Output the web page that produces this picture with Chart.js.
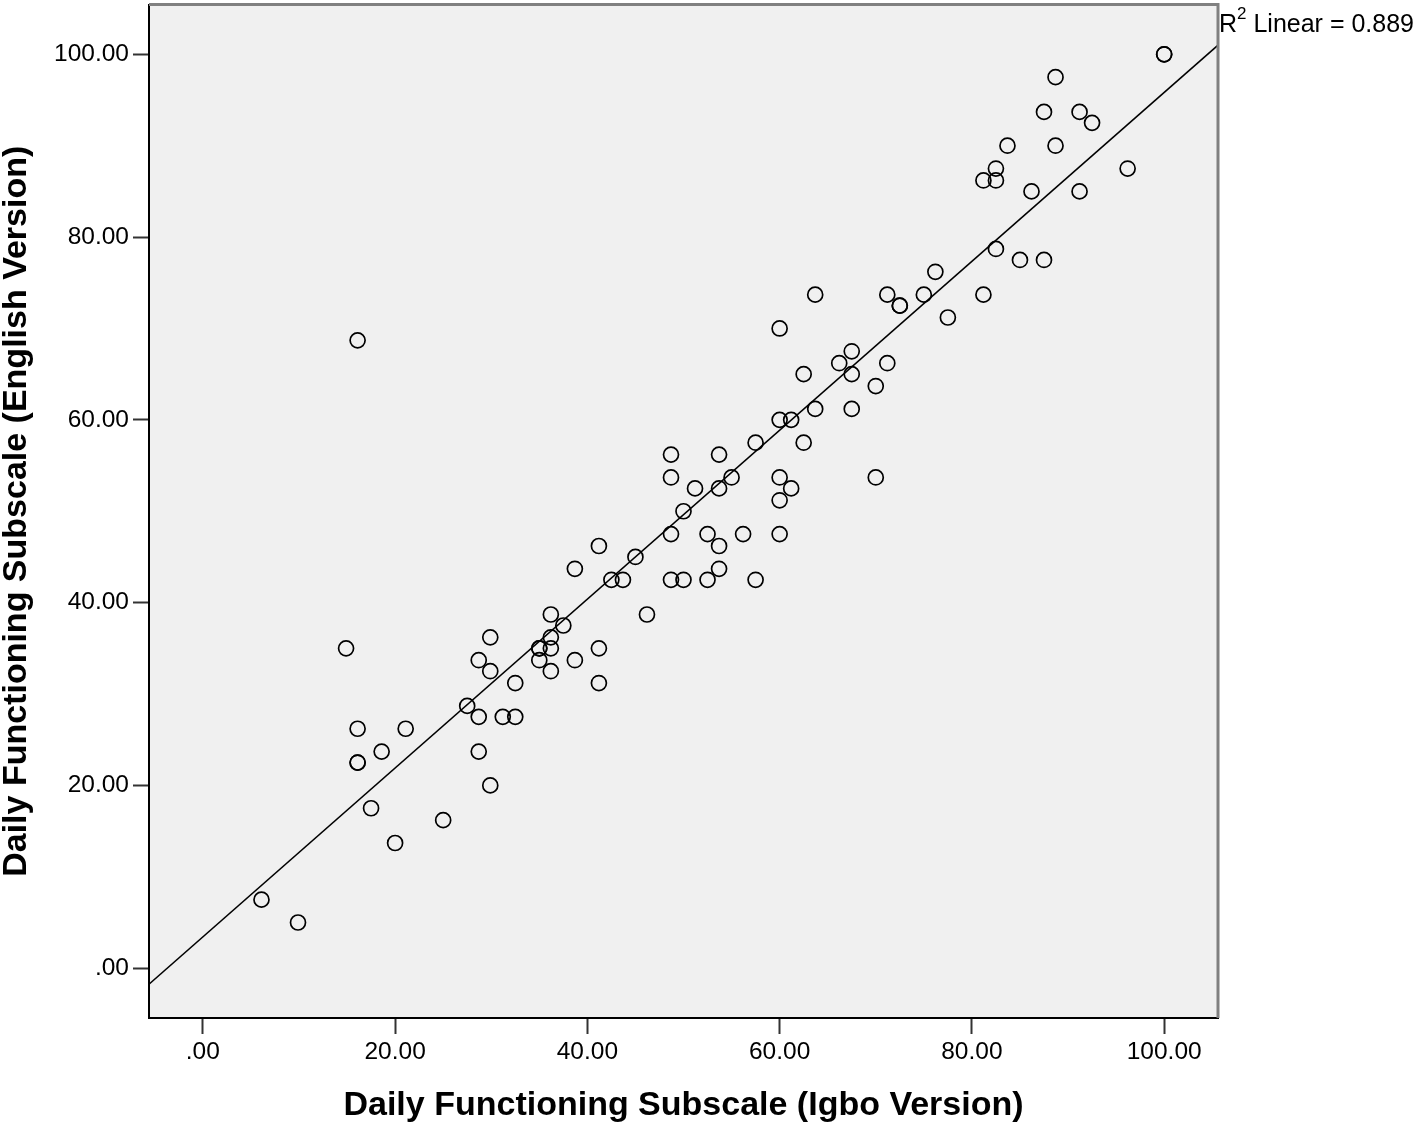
<!DOCTYPE html>
<html>
<head>
<meta charset="utf-8">
<script src="https://cdn.jsdelivr.net/npm/chart.js@4/dist/chart.umd.min.js"></script>
<style>
html,body{margin:0;padding:0;background:#fff;}
#wrap{width:1418px;height:1127px;position:relative;}
</style>
</head>
<body>
<div id="wrap"><canvas id="c" width="1418" height="1127"></canvas></div>
<script>
// Daily Functioning Subscale scores
const igboScores = [
  6.1, 9.9, 16.1, 14.9, 16.1, 16.1, 16.1, 18.6, 17.5, 20.0,
  21.1, 25.0, 27.5, 28.7, 28.7, 28.7, 29.9, 29.9, 29.9, 31.2,
  32.5, 32.5, 35.0, 35.0, 35.0, 36.2, 36.2, 36.2, 36.2, 37.5,
  38.7, 38.7, 41.2, 41.2, 41.2, 42.5, 43.7, 45.0, 46.2, 48.7,
  48.7, 48.7, 48.7, 50.0, 50.0, 51.2, 52.5, 52.5, 53.7, 53.7,
  53.7, 53.7, 55.0, 56.2, 57.5, 57.5, 60.0, 60.0, 60.0, 60.0,
  60.0, 61.2, 61.2, 62.5, 62.5, 63.7, 63.7, 66.2, 67.5, 67.5,
  67.5, 70.0, 70.0, 71.2, 71.2, 72.5, 72.5, 75.0, 76.2, 77.5,
  81.2, 81.2, 82.5, 82.5, 82.5, 83.7, 85.0, 86.2, 87.5, 87.5,
  88.7, 88.7, 91.2, 91.2, 92.5, 96.2, 100.0, 100.0
];
const englishScores = [
  7.5, 5.0, 68.7, 35.0, 26.2, 22.5, 22.5, 23.7, 17.5, 13.7,
  26.2, 16.2, 28.7, 33.7, 27.5, 23.7, 36.2, 32.5, 20.0, 27.5,
  27.5, 31.2, 35.0, 35.0, 33.7, 38.7, 36.2, 35.0, 32.5, 37.5,
  43.7, 33.7, 46.2, 35.0, 31.2, 42.5, 42.5, 45.0, 38.7, 56.2,
  53.7, 47.5, 42.5, 50.0, 42.5, 52.5, 47.5, 42.5, 56.2, 52.5,
  46.2, 43.7, 53.7, 47.5, 57.5, 42.5, 70.0, 60.0, 53.7, 51.2,
  47.5, 60.0, 52.5, 65.0, 57.5, 73.7, 61.2, 66.2, 67.5, 65.0,
  61.2, 63.7, 53.7, 73.7, 66.2, 72.5, 72.5, 73.7, 76.2, 71.2,
  86.2, 73.7, 87.5, 86.2, 78.7, 90.0, 77.5, 85.0, 93.7, 77.5,
  97.5, 90.0, 93.7, 85.0, 92.5, 87.5, 100.0, 100.0
];
const tickValues = [0, 20, 40, 60, 80, 100];
const axisRangeX = [-5.6, 105.6];
const axisRangeY = [-5.45, 105.45];
// Linear fit
const fitSlope = 0.924;
const fitIntercept = 3.43;
const xTitle = 'Daily Functioning Subscale (Igbo Version)';
const yTitle = 'Daily Functioning Subscale (English Version)';
const r2Parts = ['R', '2', ' Linear = 0.889'];

const FONT = '"Liberation Sans", Arial, sans-serif';

const points = igboScores.map((x, i) => ({x: x, y: englishScores[i]}));
const fitLine = axisRangeX.map(x => ({x: x, y: fitIntercept + fitSlope * x}));

const fmt = v => (Math.abs(v) < 1e-9 ? '.00' : v.toFixed(2));

const plotDecor = {
  id: 'plotDecor',
  beforeDraw(chart) {
    const {ctx, chartArea: a} = chart;
    ctx.save();
    ctx.fillStyle = '#f0f0f0';
    ctx.fillRect(a.left, a.top, a.right - a.left, a.bottom - a.top);
    ctx.restore();
  },
  afterDraw(chart) {
    const {ctx, chartArea: a} = chart;
    ctx.save();
    ctx.strokeStyle = '#808080';
    ctx.lineWidth = 3;
    ctx.beginPath();
    ctx.moveTo(a.left, a.top);
    ctx.lineTo(a.right, a.top);
    ctx.lineTo(a.right, a.bottom);
    ctx.stroke();
    // R squared label
    ctx.fillStyle = '#000';
    ctx.textBaseline = 'alphabetic';
    ctx.textAlign = 'left';
    let x = a.right + 1;
    const base = 32;
    ctx.font = '25px ' + FONT;
    ctx.fillText(r2Parts[0], x, base);
    x += ctx.measureText(r2Parts[0]).width;
    ctx.font = '17px ' + FONT;
    ctx.fillText(r2Parts[1], x, base - 13);
    x += ctx.measureText(r2Parts[1]).width;
    ctx.font = '25px ' + FONT;
    ctx.fillText(r2Parts[2], x, base);
    ctx.restore();
  }
};

const tickFont = {family: FONT, size: 24.5, lineHeight: 1};
const titleFont = {family: FONT, size: 34, weight: 'bold', lineHeight: 1};

new Chart(document.getElementById('c'), {
  type: 'scatter',
  data: {
    datasets: [
      {
        type: 'line',
        data: fitLine,
        borderColor: '#000',
        borderWidth: 1.5,
        pointRadius: 0,
        fill: false,
        tension: 0,
        order: 2
      },
      {
        data: points,
        pointStyle: 'circle',
        pointRadius: 7.5,
        pointBorderWidth: 1.7,
        pointBorderColor: '#000',
        pointBackgroundColor: 'rgba(0,0,0,0)',
        borderColor: '#000',
        backgroundColor: 'rgba(0,0,0,0)',
        order: 1
      }
    ]
  },
  options: {
    responsive: false,
    animation: false,
    devicePixelRatio: 1,
    layout: {autoPadding: false, padding: {top: 4.5, right: 200, left: 0, bottom: 0}},
    plugins: {legend: {display: false}, tooltip: {enabled: false}},
    scales: {
      x: {
        type: 'linear',
        min: axisRangeX[0],
        max: axisRangeX[1],
        afterBuildTicks: s => { s.ticks = tickValues.map(v => ({value: v})); },
        afterFit: s => { s.height = 109; s.paddingLeft = 0; s.paddingRight = 0; },
        ticks: {
          callback: v => fmt(v),
          font: tickFont,
          color: '#000',
          padding: 6,
          maxRotation: 0,
          autoSkip: false
        },
        grid: {
          drawOnChartArea: false,
          drawTicks: true,
          tickLength: 16,
          tickColor: '#333',
          tickWidth: 2
        },
        border: {display: true, color: '#000', width: 2},
        title: {
          display: true,
          text: xTitle,
          font: titleFont,
          color: '#000',
          padding: {top: 0, bottom: 4}
        }
      },
      y: {
        type: 'linear',
        min: axisRangeY[0],
        max: axisRangeY[1],
        afterBuildTicks: s => { s.ticks = tickValues.map(v => ({value: v})); },
        afterFit: s => { s.width = 149; s.paddingTop = 0; s.paddingBottom = 0; },
        ticks: {
          callback: v => fmt(v),
          font: tickFont,
          color: '#000',
          padding: 4,
          autoSkip: false
        },
        grid: {
          drawOnChartArea: false,
          drawTicks: true,
          tickLength: 16,
          tickColor: '#333',
          tickWidth: 2
        },
        border: {display: true, color: '#000', width: 2},
        title: {
          display: true,
          text: yTitle,
          font: titleFont,
          color: '#000',
          padding: {top: 0, bottom: 0}
        }
      }
    }
  },
  plugins: [plotDecor]
});
</script>
</body>
</html>
